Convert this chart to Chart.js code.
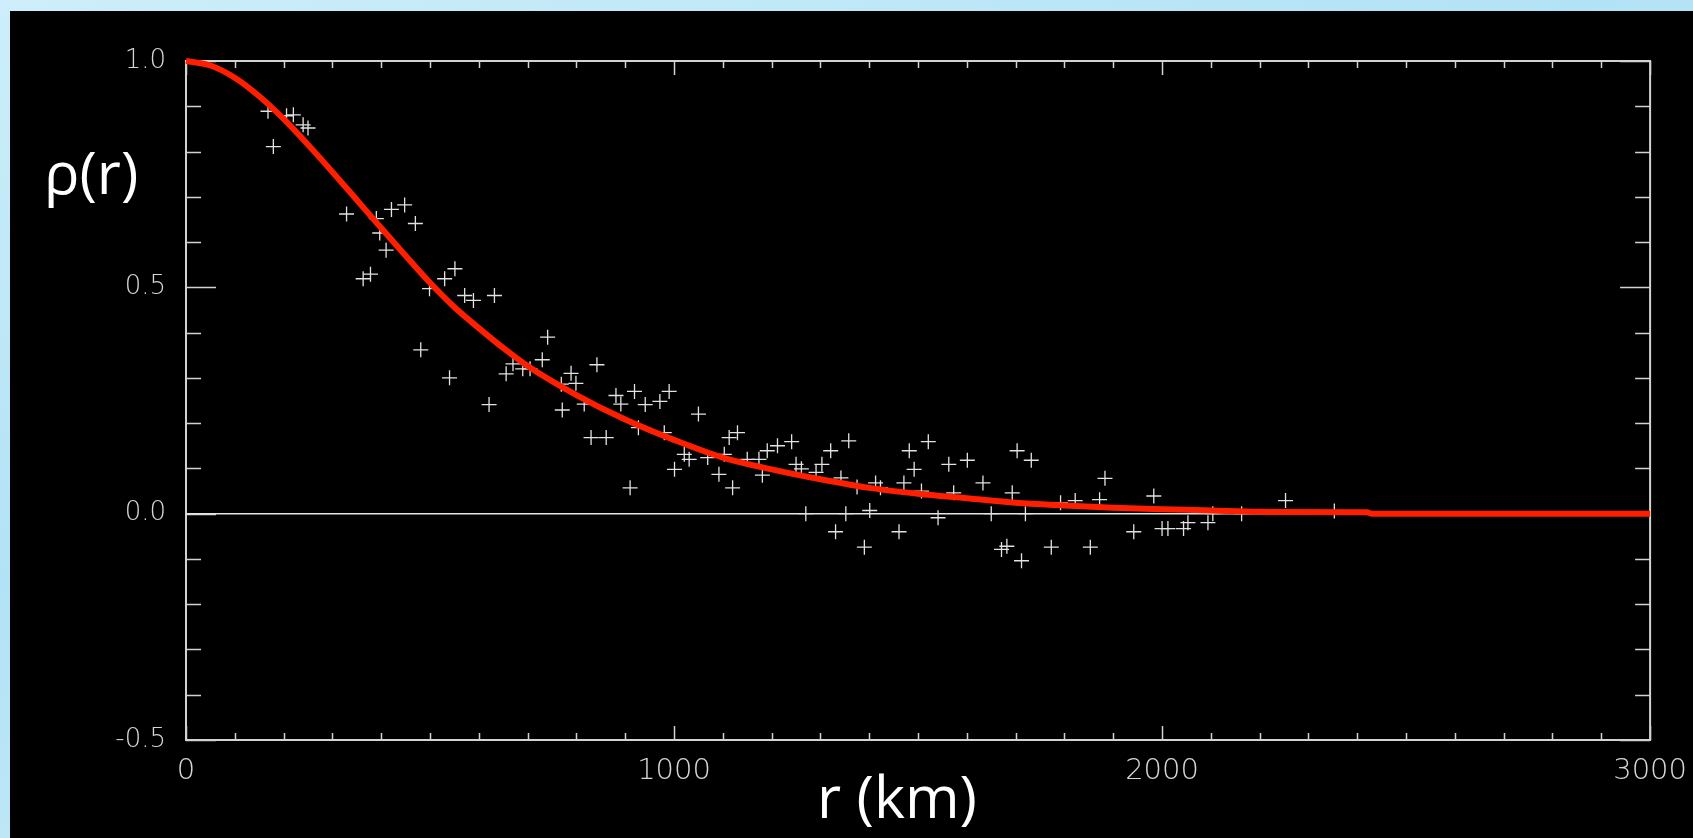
<!DOCTYPE html>
<html>
<head>
<meta charset="utf-8">
<title>rho(r)</title>
<script src="https://cdn.jsdelivr.net/npm/chart.js@4.4.1/dist/chart.umd.min.js"></script>
<style>
  html, body { margin: 0; padding: 0; width: 1693px; height: 838px; overflow: hidden; }
  body { background: linear-gradient(160deg, #cdeefa 0%, #b2e2f5 40%, #c4eaf8 70%, #a6dcf2 100%); position: relative; }
  #panel { position: absolute; left: 10px; top: 11px; right: 0; bottom: 0; background: #000; }
  #chart { position: absolute; left: 0; top: 0; }
  .big { position: absolute; color: #fff; font-family: "Open Sans", sans-serif; font-size: 59px; line-height: 59px; white-space: nowrap; }
  #ytitle { left: 44px; top: 142px; }
  #xtitle { left: 897px; top: 766px; transform: translateX(-50%); }
</style>
</head>
<body>
<div id="panel"></div>
<canvas id="chart" width="1693" height="838"></canvas>
<div class="big" id="ytitle">ρ(r)</div>
<div class="big" id="xtitle">r (km)</div>
<script>
// measured points (r in km, correlation)
const scatterR = [
  168, 179, 206, 220, 240, 250, 329, 363, 378, 390, 397, 410, 421, 448, 470,
  481, 499, 530, 540, 551, 571, 589, 621, 632, 656, 670, 690, 705, 730, 741,
  769, 771, 789, 799, 816, 830, 842, 861, 881, 891, 910, 919, 927, 941, 971,
  980, 990, 1001, 1021, 1031, 1050, 1069, 1092, 1103, 1113, 1120, 1130, 1150, 1174, 1181,
  1191, 1212, 1241, 1250, 1261, 1291, 1303, 1321, 1342, 1358, 1270, 1352, 1331, 1401, 1390,
  1375, 1413, 1423, 1471, 1482, 1492, 1507, 1521, 1461, 1541, 1563, 1573, 1601, 1633, 1650,
  1671, 1682, 1703, 1693, 1720, 1712, 1732, 1773, 1792, 1822, 1853, 1872, 1883, 1942, 1983,
  2000, 2012, 2044, 2053, 2094, 2104, 2163, 2253, 2353
];
const scatterRho = [
  0.889, 0.811, 0.879, 0.881, 0.859, 0.852, 0.662, 0.519, 0.529, 0.652, 0.620, 0.582, 0.672, 0.682, 0.641,
  0.362, 0.497, 0.519, 0.300, 0.541, 0.482, 0.471, 0.241, 0.482, 0.309, 0.331, 0.320, 0.320, 0.340, 0.390,
  0.286, 0.229, 0.310, 0.288, 0.242, 0.168, 0.329, 0.168, 0.261, 0.242, 0.057, 0.270, 0.190, 0.241, 0.248,
  0.179, 0.270, 0.098, 0.131, 0.120, 0.220, 0.124, 0.087, 0.131, 0.168, 0.057, 0.179, 0.120, 0.120, 0.085,
  0.139, 0.150, 0.159, 0.109, 0.099, 0.091, 0.109, 0.139, 0.079, 0.161, 0.000, 0.000, -0.040, 0.007, -0.074,
  0.059, 0.068, 0.057, 0.068, 0.139, 0.098, 0.050, 0.159, -0.040, -0.009, 0.109, 0.046, 0.118, 0.068, 0.000,
  -0.079, -0.072, 0.139, 0.046, 0.000, -0.104, 0.118, -0.074, 0.024, 0.029, -0.074, 0.031, 0.078, -0.040, 0.039,
  -0.033, -0.033, -0.033, -0.020, -0.020, 0.000, 0.000, 0.029, 0.006
];

// fitted curve
const curveR = [0, 50, 100, 150, 200, 250, 300, 350, 400, 450, 500, 550, 600, 650, 700, 800, 900, 1000,
  1100, 1200, 1300, 1400, 1500, 1600, 1700, 1800, 1900, 2000, 2100, 2200, 2420, 2430, 3000];
const curveRho = [1.0, 0.99, 0.963, 0.922, 0.872, 0.815, 0.755, 0.693, 0.631, 0.57, 0.51, 0.456, 0.41, 0.366, 0.326, 0.262, 0.208, 0.163,
  0.124, 0.098, 0.076, 0.057, 0.044, 0.034, 0.024, 0.018, 0.013, 0.010, 0.007, 0.004, 0.003, 0.0, 0.0];

const zeroR = [0, 3000];
const zeroRho = [0, 0];

const xLabelTicks = [0, 1000, 2000, 3000];
const yLabelTicks = [-0.5, 0.0, 0.5, 1.0];

function toPoints(xs, ys) {
  return xs.map((x, i) => ({ x: x, y: ys[i] }));
}

function isLabelTick(list, v) {
  return list.some((t) => Math.abs(t - v) < 1e-6);
}

// IDL style box with ticks pointing inward
const idlFrame = {
  id: "idlFrame",
  beforeDatasetsDraw(chart) {
    const { ctx, chartArea: a, scales } = chart;
    const x = scales.x;
    const y = scales.y;
    ctx.save();
    ctx.strokeStyle = "#d2d2d2";
    ctx.lineWidth = 1.5;
    ctx.beginPath();
    for (const t of x.ticks) {
      const px = Math.round(x.getPixelForValue(t.value)) + 0.5;
      const len = isLabelTick(xLabelTicks, t.value) ? 14 : 7;
      ctx.moveTo(px, a.bottom);
      ctx.lineTo(px, a.bottom - len);
      ctx.moveTo(px, a.top);
      ctx.lineTo(px, a.top + len);
    }
    for (const t of y.ticks) {
      const py = Math.round(y.getPixelForValue(t.value)) + 0.5;
      const len = isLabelTick(yLabelTicks, t.value) ? 30 : 15;
      ctx.moveTo(a.left, py);
      ctx.lineTo(a.left + len, py);
      ctx.moveTo(a.right, py);
      ctx.lineTo(a.right - len, py);
    }
    ctx.stroke();
    ctx.lineWidth = 2;
    ctx.strokeRect(a.left, a.top, a.right - a.left, a.bottom - a.top);
    ctx.restore();
  },
};

const tickFont = { family: "'DejaVu Sans'", weight: "200" };

new Chart(document.getElementById("chart"), {
  type: "scatter",
  data: {
    datasets: [
      {
        label: "fit",
        data: toPoints(curveR, curveRho),
        showLine: true,
        borderColor: "#ff1e00",
        borderWidth: 6,
        pointRadius: 0,
        cubicInterpolationMode: "monotone",
        clip: 4,
      },
      {
        label: "data",
        data: toPoints(scatterR, scatterRho),
        pointStyle: "cross",
        pointRadius: 7.5,
        borderColor: "#e2e2e2",
        borderWidth: 1.3,
        backgroundColor: "#e2e2e2",
      },
      {
        label: "zero",
        data: toPoints(zeroR, zeroRho),
        showLine: true,
        borderColor: "#e6e6e6",
        borderWidth: 1.5,
        pointRadius: 0,
      },
    ],
  },
  options: {
    responsive: false,
    animation: false,
    devicePixelRatio: 1,
    events: [],
    layout: { padding: { left: 0, top: 61, right: 40, bottom: 0 } },
    plugins: { legend: { display: false }, tooltip: { enabled: false } },
    scales: {
      x: {
        type: "linear",
        min: 0,
        max: 3000,
        grid: { display: false },
        border: { display: false },
        ticks: {
          stepSize: 100,
          maxTicksLimit: 100,
          autoSkip: false,
          maxRotation: 0,
          padding: 6,
          color: "#d6d6d6",
          font: { ...tickFont, size: 29 },
          callback: (v) => (isLabelTick(xLabelTicks, v) ? String(Math.round(v)) : ""),
        },
        afterFit(scale) {
          scale.height = 98;
        },
      },
      y: {
        type: "linear",
        min: -0.5,
        max: 1.0,
        grid: { display: false },
        border: { display: false },
        ticks: {
          stepSize: 0.1,
          maxTicksLimit: 100,
          autoSkip: false,
          padding: 12,
          color: "#d6d6d6",
          font: { ...tickFont, size: 26 },
          callback: (v) => (isLabelTick(yLabelTicks, v) ? v.toFixed(1) : ""),
        },
        afterFit(scale) {
          scale.width = 186;
        },
      },
    },
  },
  plugins: [idlFrame],
});
</script>
</body>
</html>
